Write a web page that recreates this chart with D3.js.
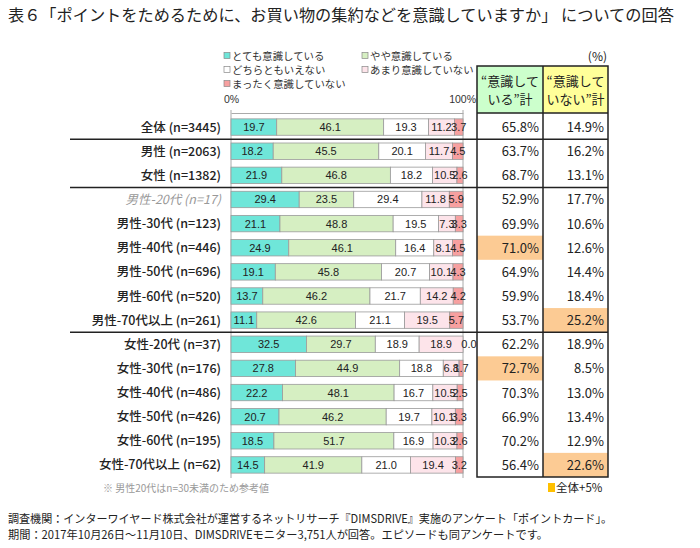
<!DOCTYPE html>
<html><head><meta charset="utf-8">
<script src="https://cdn.jsdelivr.net/npm/d3@7"></script>
<style>
html,body{margin:0;padding:0;background:#fff;}
svg{display:block;font-family:"Noto Sans CJK JP","Noto Sans",sans-serif;}
</style></head>
<body><svg id="c" width="700" height="548"></svg>
<script>
const categories = ["全体 (n=3445)","男性 (n=2063)","女性 (n=1382)","男性-20代 (n=17)","男性-30代 (n=123)","男性-40代 (n=446)","男性-50代 (n=696)","男性-60代 (n=520)","男性-70代以上 (n=261)","女性-20代 (n=37)","女性-30代 (n=176)","女性-40代 (n=486)","女性-50代 (n=426)","女性-60代 (n=195)","女性-70代以上 (n=62)"];
const seriesNames = ["とても意識している","やや意識している","どちらともいえない","あまり意識していない","まったく意識していない"];
const veryAware   = [19.7,18.2,21.9,29.4,21.1,24.9,19.1,13.7,11.1,32.5,27.8,22.2,20.7,18.5,14.5];
const someAware   = [46.1,45.5,46.8,23.5,48.8,46.1,45.8,46.2,42.6,29.7,44.9,48.1,46.2,51.7,41.9];
const neither     = [19.3,20.1,18.2,29.4,19.5,16.4,20.7,21.7,21.1,18.9,18.8,16.7,19.7,16.9,21.0];
const littleAware = [11.2,11.7,10.5,11.8,7.3,8.1,10.1,14.2,19.5,18.9,6.8,10.5,10.1,10.3,19.4];
const notAware    = [3.7,4.5,2.6,5.9,3.3,4.5,4.3,4.2,5.7,0.0,1.7,2.5,3.3,2.6,3.2];
const awareTotal    = [65.8,63.7,68.7,52.9,69.9,71.0,64.9,59.9,53.7,62.2,72.7,70.3,66.9,70.2,56.4];
const notAwareTotal = [14.9,16.2,13.1,17.7,10.6,12.6,14.4,18.4,25.2,18.9,8.5,13.0,13.4,12.9,22.6];
const awareHighlight    = ["男性-40代 (n=446)","女性-30代 (n=176)"];
const notAwareHighlight = ["男性-70代以上 (n=261)","女性-70代以上 (n=62)"];
const groupBreaksAfter = ["全体 (n=3445)","女性 (n=1382)","男性-70代以上 (n=261)"];
const referenceRow = "男性-20代 (n=17)";
const axisTicks = [0,100];

const colors = ["#6fe6d9","#d6efc2","#ffffff","#fde4ea","#f7a0a0"];
const svg = d3.select("#c");
const seriesVals = [veryAware,someAware,neither,littleAware,notAware];

const x = d3.scaleLinear().domain([0,100]).range([231,463]);
const y = d3.scaleBand().domain(categories).range([115,477]).paddingInner(0.32).paddingOuter(0.16);
const yRow = d3.scaleBand().domain(categories).range([115,477]);

// title
svg.append("text").attr("x",8).attr("y",21).attr("font-size",16.2).attr("fill","#222")
  .text("表６「ポイントをためるために、お買い物の集約などを意識していますか」 についての回答");

// legend
const legPos = [[224,56],[362,56],[224,70],[362,70],[224,84]];
seriesNames.forEach((n,i)=>{
  const [lx,ly]=legPos[i];
  svg.append("rect").attr("x",lx).attr("y",ly-3.5).attr("width",6).attr("height",6)
    .attr("fill",colors[i]).attr("stroke","#888").attr("stroke-width",0.7);
  svg.append("text").attr("x",lx+8).attr("y",ly+4).attr("font-size",10.4).attr("fill","#333").text(n);
});
svg.append("text").attr("x",607).attr("y",61).attr("text-anchor","end").attr("font-size",12).attr("fill","#222").text("(%)");
svg.append("text").attr("x",x(0)-7).attr("y",103).attr("font-size",10.5).attr("font-family","Liberation Sans, Arial, sans-serif").attr("fill","#333").text(axisTicks[0]+"%");
svg.append("text").attr("x",x(100)+13).attr("y",103).attr("text-anchor","end").attr("font-size",10.5).attr("font-family","Liberation Sans, Arial, sans-serif").attr("fill","#333").text(axisTicks[1]+"%");

// axis lines
const ax = svg.append("g").attr("transform","translate(0,113)").call(d3.axisTop(x).tickValues(axisTicks).tickSize(0).tickFormat(""));
ax.select(".domain").attr("stroke","#aaa");
axisTicks.forEach(t=>{
  svg.append("line").attr("x1",x(t)).attr("x2",x(t)).attr("y1",110).attr("y2",478).attr("stroke","#aaa").attr("stroke-width",1);
});

// table header
const colL=477, colM=543, colR=608, headTop=66, headBot=113;
svg.append("rect").attr("x",colL).attr("y",headTop).attr("width",colM-colL).attr("height",headBot-headTop).attr("fill","#ccffcc");
svg.append("rect").attr("x",colM).attr("y",headTop).attr("width",colR-colM).attr("height",headBot-headTop).attr("fill","#ffff99");
const hdr=[["“意識して","いる”計"],["“意識して","いない”計"]];
[[colL,colM],[colM,colR]].forEach((c,i)=>{
  hdr[i].forEach((t,j)=>{
    svg.append("text").attr("x",(c[0]+c[1])/2).attr("y",86+j*18).attr("text-anchor","middle")
      .attr("font-size",13).attr("fill","#222").text(t);
  });
});

// highlights
categories.forEach((c,i)=>{
  if(awareHighlight.includes(c)) svg.append("rect").attr("x",colL).attr("y",yRow(c)).attr("width",colM-colL).attr("height",yRow.bandwidth()).attr("fill","#fccb94");
  if(notAwareHighlight.includes(c)) svg.append("rect").attr("x",colM).attr("y",yRow(c)).attr("width",colR-colM).attr("height",yRow.bandwidth()).attr("fill","#fccb94");
});

// bars
const stacked = categories.map((c,i)=>{
  let acc=0; return seriesVals.map((s,k)=>{const v=s[i]; const o={c,k,v,x0:acc,x1:acc+v}; acc+=v; return o;});
});
const rows = svg.append("g");
stacked.forEach(segs=>{
  segs.forEach(s=>{
    if(s.v>0) rows.append("rect").attr("x",x(s.x0)).attr("y",y(s.c)).attr("width",x(s.x1)-x(s.x0)).attr("height",y.bandwidth())
      .attr("fill",colors[s.k]).attr("stroke","#9a9a9a").attr("stroke-width",0.8);
  });
});
stacked.forEach(segs=>{
  segs.forEach(s=>{
    let cx = x((s.x0+s.x1)/2);
    if(s.v===0) cx = x(s.x0)+6;
    rows.append("text").attr("x",cx).attr("y",y(s.c)+y.bandwidth()/2+4).attr("text-anchor","middle")
      .attr("font-size",11).attr("font-family","Liberation Sans, Arial, sans-serif").attr("fill","#222").text(s.v.toFixed(1));
  });
});

// row labels
categories.forEach(c=>{
  const ref = c===referenceRow;
  svg.append("text").attr("x",221).attr("y",yRow(c)+yRow.bandwidth()/2+4.5).attr("text-anchor","end")
    .attr("font-size",12.5).attr("font-weight",ref?"normal":"500").attr("font-style",ref?"italic":"normal")
    .attr("fill",ref?"#999":"#222").text(c);
});

// table values
categories.forEach((c,i)=>{
  const cy=yRow(c)+yRow.bandwidth()/2+5;
  svg.append("text").attr("x",colM-4).attr("y",cy).attr("text-anchor","end").attr("font-size",13).attr("fill","#222").text(awareTotal[i].toFixed(1)+"%");
  svg.append("text").attr("x",colR-4).attr("y",cy).attr("text-anchor","end").attr("font-size",13).attr("fill","#222").text(notAwareTotal[i].toFixed(1)+"%");
});

// table borders
const tb = svg.append("g").attr("stroke","#222").attr("stroke-width",1.5).attr("fill","none");
tb.append("rect").attr("x",colL).attr("y",headTop).attr("width",colR-colL).attr("height",477-headTop);
tb.append("line").attr("x1",colM).attr("x2",colM).attr("y1",headTop).attr("y2",477);
tb.append("line").attr("x1",colL).attr("x2",colR).attr("y1",headBot).attr("y2",headBot);
groupBreaksAfter.forEach(c=>{
  const yy = yRow(c)+yRow.bandwidth();
  tb.append("line").attr("x1",70).attr("x2",colR).attr("y1",yy).attr("y2",yy);
});

// notes
svg.append("text").attr("x",103).attr("y",492).attr("font-size",10).attr("fill","#999").text("※ 男性20代はn=30未満のため参考値");
svg.append("rect").attr("x",548).attr("y",483).attr("width",7).attr("height",9).attr("fill","#ffc000");
svg.append("text").attr("x",556).attr("y",492).attr("font-size",11.5).attr("fill","#222").text("全体+5%");
svg.append("text").attr("x",8).attr("y",523).attr("font-size",11.5).attr("fill","#222").attr("textLength",604).attr("lengthAdjust","spacingAndGlyphs")
  .text("調査機関：インターワイヤード株式会社が運営するネットリサーチ『DIMSDRIVE』実施のアンケート「ポイントカード」。");
svg.append("text").attr("x",8).attr("y",539).attr("font-size",11.5).attr("fill","#222").attr("textLength",540).attr("lengthAdjust","spacingAndGlyphs")
  .text("期間：2017年10月26日～11月10日、DIMSDRIVEモニター3,751人が回答。エピソードも同アンケートです。");
</script></body></html>
